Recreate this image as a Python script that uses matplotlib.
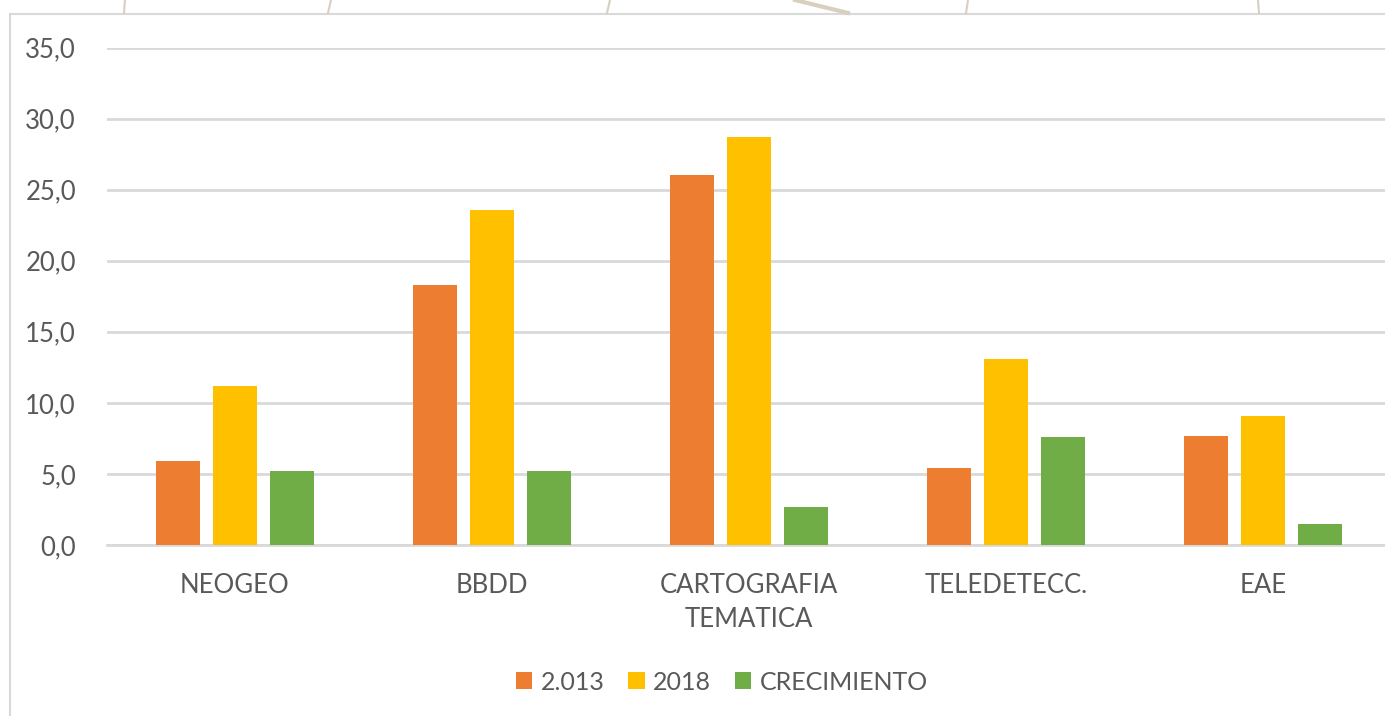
import matplotlib.pyplot as plt
import numpy as np
from matplotlib.lines import Line2D
from matplotlib.patches import Patch

plt.rcParams['font.family'] = ['Lato', 'DejaVu Sans']

# datos
categorias = ["NEOGEO", "BBDD", "CARTOGRAFIA\nTEMATICA", "TELEDETECC.", "EAE"]
serie_2013 = [5.9, 18.3, 26.0, 5.4, 7.7]
serie_2018 = [11.2, 23.6, 28.7, 13.1, 9.1]
crecimiento = [5.2, 5.2, 2.7, 7.6, 1.5]
nombres = ["2.013", "2018", "CRECIMIENTO"]
colores = ["#ED7D31", "#FFC000", "#70AD47"]

W, H = 1385, 716
fig = plt.figure(figsize=(W / 100, H / 100), dpi=100)
fig.patch.set_facecolor("white")

# el grafico esta recortado por la derecha
ax = fig.add_axes([106.5 / W, (H - 545) / H, 1285 / W, 497.5 / H])

x = np.arange(len(categorias))
paso = 57 / 257
ancho = 44 / 257
for i, (vals, nom, col) in enumerate(zip([serie_2013, serie_2018, crecimiento], nombres, colores)):
    ax.bar(x + (i - 1) * paso, vals, width=ancho, color=col, label=nom, zorder=3)

ax.set_xlim(-0.5, len(categorias) - 0.5)
ax.set_ylim(0, 35)
ax.set_yticks(np.arange(0, 36, 5))
ax.set_yticklabels([f"{v:.1f}".replace(".", ",") for v in np.arange(0, 36, 5)])
ax.set_xticks(x)
ax.set_xticklabels(categorias, linespacing=1.45)
ax.tick_params(axis="both", length=0, labelsize=18.5, colors="#595959")
ax.tick_params(axis="y", pad=22)
ax.tick_params(axis="x", pad=20)
ax.grid(axis="y", color="#d9d9d9", linewidth=2, zorder=0)
for s in ["top", "right", "left"]:
    ax.spines[s].set_visible(False)
ax.spines["bottom"].set_color("#d9d9d9")
ax.spines["bottom"].set_linewidth(2)

handles = [Patch(facecolor=c, edgecolor="none") for c in colores]
fig.legend(handles, nombres, loc="center", bbox_to_anchor=(722 / W, (H - 682) / H),
           ncol=3, frameon=False, fontsize=18, handlelength=0.65, handleheight=0.65,
           handletextpad=0.35, columnspacing=0.95, labelcolor="#595959")

# borde del grafico
def px_line(xs, ys, **kw):
    fig.add_artist(Line2D([v / W for v in xs], [1 - v / H for v in ys],
                          transform=fig.transFigure, **kw))

px_line([10, 10], [14, H], color="#d9d9d9", linewidth=1.5)
px_line([10, W], [14, 14], color="#d9d9d9", linewidth=1.5)

# lineas del fondo por encima del grafico
for xa, xb in [(125, 124), (331, 328), (610, 607), (968, 966), (1258, 1259)]:
    px_line([xa, xb], [0, 13], color="#d8cfc0", linewidth=1.5)
px_line([795, 848], [0, 13], color="#d8cfc0", linewidth=3)

fig.savefig("out.png", dpi=100)
